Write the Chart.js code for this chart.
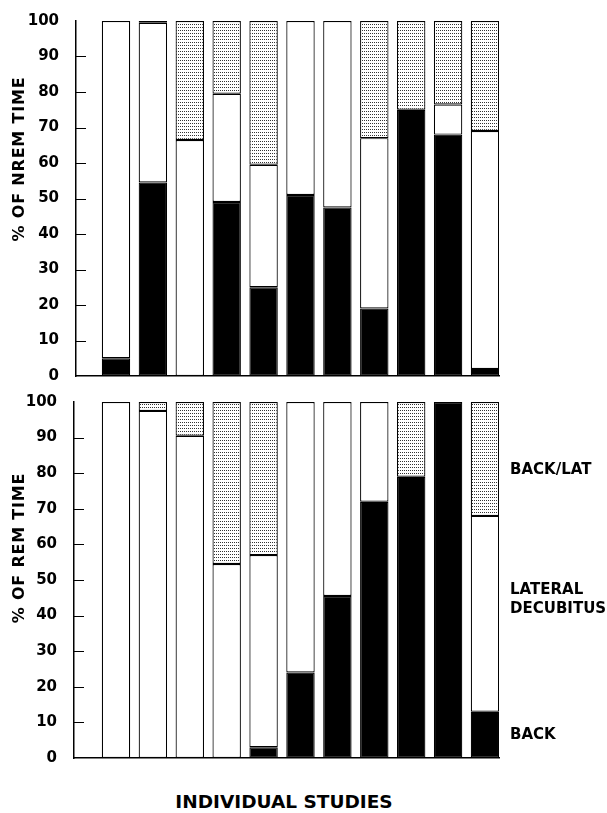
<!DOCTYPE html>
<html>
<head>
<meta charset="utf-8">
<script src="https://cdn.jsdelivr.net/npm/chart.js@4.4.1/dist/chart.umd.min.js"></script>
<style>
  body { margin: 0; background: #fff; }
  #wrap { position: relative; width: 607px; height: 813px; }
  canvas { position: absolute; left: 0; }
  .lbl { position: absolute; font-family: "DejaVu Sans", sans-serif; font-weight: bold; color: #000; white-space: nowrap; }
  .ytitle { font-size: 16px; letter-spacing: 0.8px; transform: translate(-50%, -50%) rotate(-90deg); }
  .side { font-size: 15px; left: 510px; transform: translateY(-50%); line-height: 19px; }
</style>
</head>
<body>
<div id="wrap">
  <canvas id="nrem" width="607" height="394" style="top:0"></canvas>
  <canvas id="rem" width="607" height="393" style="top:383px"></canvas>
  <div class="lbl ytitle" style="left:18px; top:159px">% OF NREM TIME</div>
  <div class="lbl ytitle" style="left:18px; top:548px">% OF REM TIME</div>
  <div class="lbl side" style="top:469px">BACK/LAT</div>
  <div class="lbl side" style="top:599px">LATERAL<br>DECUBITUS</div>
  <div class="lbl side" style="top:734px">BACK</div>
  <div class="lbl" style="left:284px; top:801px; transform:translate(-50%,-50%); font-size:18.5px">INDIVIDUAL STUDIES</div>
</div>
<script>
// studies 1..11, values are % of time in each position
const studies = [1, 2, 3, 4, 5, 6, 7, 8, 9, 10, 11]
const yTicks = [0, 10, 20, 30, 40, 50, 60, 70, 80, 90, 100]

const nremBack    = [5, 54.5, 0, 49, 25, 51, 47.5, 19, 75, 68, 2]
const nremLateral = [95, 45, 66.5, 30.5, 34.5, 49, 52.5, 48, 0, 8.5, 67]
const nremBackLat = [0, 0.5, 33.5, 20.5, 40.5, 0, 0, 33, 25, 23.5, 31]

const remBack    = [0, 0, 0, 0, 3, 24, 45.5, 72, 79, 100, 13]
const remLateral = [100, 97.5, 90.5, 54.5, 54, 76, 54.5, 28, 0, 0, 55]
const remBackLat = [0, 2.5, 9.5, 45.5, 43, 0, 0, 0, 21, 0, 32]

function makeDots() {
    var c = document.createElement("canvas")
    c.width = 2
    c.height = 3
    var g = c.getContext("2d")
    g.fillStyle = "#fff"
    g.fillRect(0, 0, 2, 3)
    g.fillStyle = "#333"
    g.fillRect(0, 0, 1, 1)
    return g.createPattern(c, "repeat")
}

// tick marks point into the plot in the original
const innerTicks = {
    id: "innerTicks",
    afterDraw(chart) {
        var y = chart.scales.y
        var ctx = chart.ctx
        var left = chart.chartArea.left
        ctx.save()
        ctx.strokeStyle = "#000"
        ctx.lineWidth = 1
        yTicks.forEach(function (t) {
            if (t == 0 || t == 100) return
            var py = Math.round(y.getPixelForValue(t)) + 0.5
            ctx.beginPath()
            ctx.moveTo(left, py)
            ctx.lineTo(left + 10, py)
            ctx.stroke()
        })
        ctx.restore()
    }
}

function buildChart(id, back, lateral, backLat, padTop, axisW, xMin) {
    var dots = makeDots()
    var seg = { borderColor: "#000", borderWidth: 1.2, borderSkipped: false }
    return new Chart(document.getElementById(id), {
        type: "bar",
        data: {
            labels: studies,
            datasets: [
                Object.assign({ label: "BACK", data: back, backgroundColor: "#000" }, seg),
                Object.assign({ label: "LATERAL DECUBITUS", data: lateral, backgroundColor: "#fff" }, seg),
                Object.assign({ label: "BACK/LAT", data: backLat, backgroundColor: dots }, seg)
            ]
        },
        options: {
            responsive: false,
            animation: false,
            categoryPercentage: 1,
            barPercentage: 0.77,
            layout: { padding: { top: padTop, right: 108, left: 0, bottom: 0 } },
            plugins: { legend: { display: false }, tooltip: { enabled: false } },
            scales: {
                x: {
                    type: "linear",
                    stacked: true,
                    offset: false,
                    min: xMin,
                    max: 11.38,
                    ticks: { display: false },
                    grid: { display: false, offset: false },
                    border: { display: true, color: "#000", width: 1.5 },
                    afterFit: function (s) { s.height = 1 }
                },
                y: {
                    stacked: true,
                    min: 0,
                    max: 100,
                    afterBuildTicks: function (s) { s.ticks = yTicks.map(v => ({ value: v })) },
                    ticks: {
                        color: "#000",
                        padding: 9,
                        font: { family: "DejaVu Sans", weight: "bold", size: 15 }
                    },
                    grid: { display: false },
                    border: { display: true, color: "#000", width: 1.5 },
                    afterFit: function (s) { s.width = axisW }
                }
            }
        },
        plugins: [innerTicks]
    })
}

buildChart("nrem", nremBack, nremLateral, nremBackLat, 21, 76, -0.084)
buildChart("rem", remBack, remLateral, remBackLat, 19, 74, -0.138)
</script>
</body>
</html>
